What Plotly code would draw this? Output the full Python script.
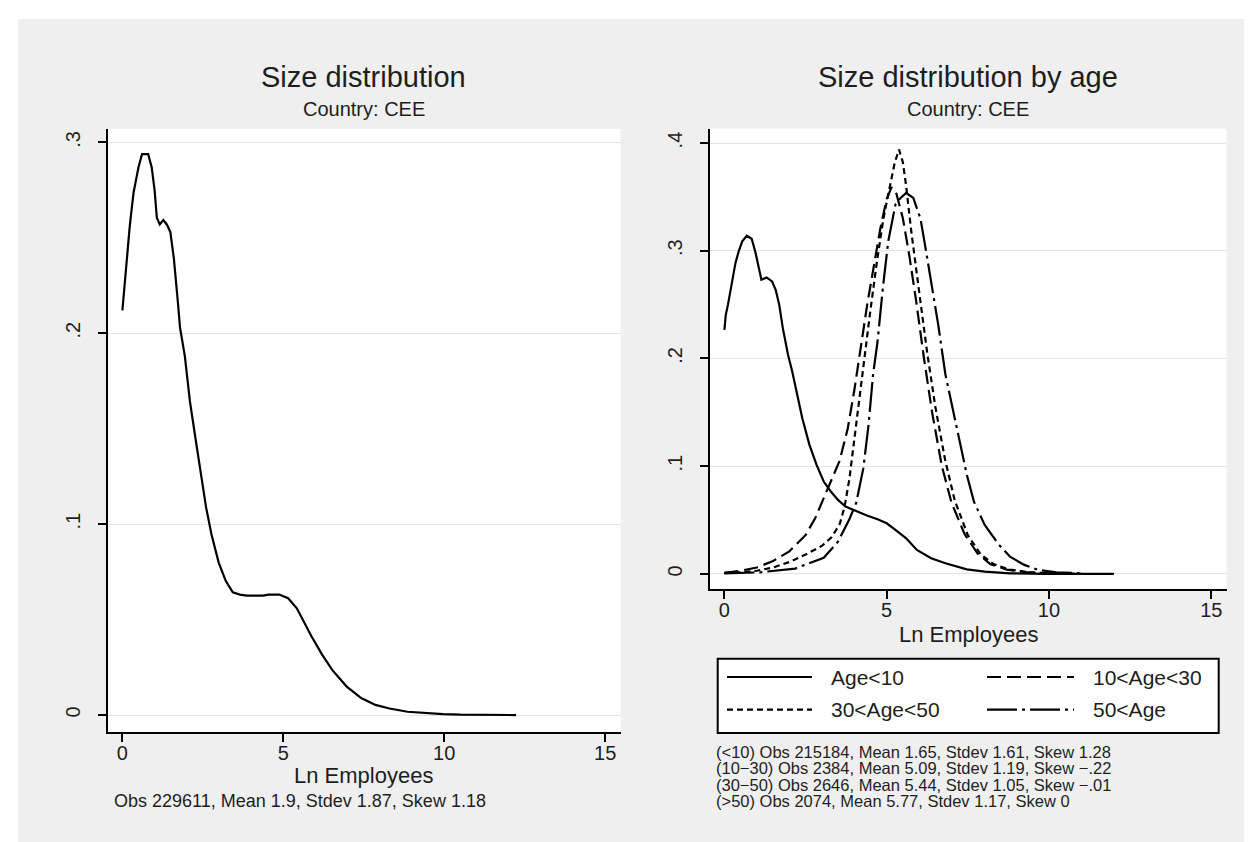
import plotly.graph_objects as go

W, H = 1252, 842

# ---------------- data ----------------
all_x = [0, 0.05, 0.11, 0.17, 0.22, 0.28, 0.35, 0.42, 0.5, 0.61, 0.8, 0.91, 1.0, 1.07,
         1.16, 1.27, 1.38, 1.49, 1.6, 1.72, 1.79, 1.94, 2.1, 2.27, 2.44, 2.6, 2.77, 2.99,
         3.21, 3.43, 3.65, 3.87, 4.37, 4.54, 4.87, 5.15, 5.42, 5.65, 5.87, 6.2, 6.53,
         6.97, 7.42, 7.86, 8.3, 8.86, 9.41, 9.96, 10.5, 11.3, 12.23]
all_y = [0.212, 0.222, 0.235, 0.246, 0.2545, 0.264, 0.274, 0.28, 0.287, 0.2938, 0.2938,
         0.287, 0.275, 0.2605, 0.257, 0.2593, 0.257, 0.253, 0.239, 0.217, 0.203, 0.188,
         0.164, 0.145, 0.1257, 0.1088, 0.0944, 0.08, 0.0703, 0.0643, 0.0631, 0.0626,
         0.0626, 0.0631, 0.0631, 0.0612, 0.0559, 0.0486, 0.0414, 0.0318, 0.0234, 0.0149,
         0.0089, 0.0053, 0.0034, 0.0017, 0.001, 0.0005, 0.0002, 0.0001, 0.0]

age10_x = [0, 0.044, 0.11, 0.176, 0.25, 0.34, 0.44, 0.55, 0.69, 0.84, 0.95, 1.06, 1.14,
           1.3, 1.47, 1.58, 1.69, 1.8, 1.96, 2.09, 2.24, 2.4, 2.62, 2.84, 3.06, 3.28, 3.5,
           3.73, 4.06, 4.39, 4.72, 5.0, 5.27, 5.6, 5.93, 6.37, 6.81, 7.47, 8.02, 8.8, 9.9, 12.0]
age10_y = [0.2266, 0.2406, 0.25, 0.2607, 0.2746, 0.2885, 0.2994, 0.3087, 0.3139, 0.3111,
           0.2994, 0.2839, 0.2731, 0.2752, 0.2715, 0.2638, 0.2498, 0.2282, 0.2034, 0.1879,
           0.1663, 0.1446, 0.1198, 0.1012, 0.0858, 0.0765, 0.0687, 0.0625, 0.0585, 0.0542,
           0.0508, 0.047, 0.0409, 0.0331, 0.0223, 0.0146, 0.0099, 0.0043, 0.0022, 0.0006,
           0.0, 0.0]

age10_30_x = [0, 0.5, 1.0, 1.5, 2.0, 2.5, 2.8, 3.2, 3.55, 3.8, 4.0, 4.2, 4.4, 4.6, 4.8,
              5.0, 5.15, 5.3, 5.5, 5.7, 5.9, 6.15, 6.4, 6.7, 7.0, 7.4, 7.8, 8.2, 8.7, 9.3,
              10.0, 11.0]
age10_30_y = [0.001, 0.003, 0.006, 0.012, 0.021, 0.036, 0.052, 0.081, 0.105, 0.135, 0.17,
              0.21, 0.25, 0.285, 0.32, 0.348, 0.359, 0.353, 0.33, 0.295, 0.255, 0.2, 0.15,
              0.1, 0.066, 0.037, 0.019, 0.009, 0.004, 0.0017, 0.0006, 0.0]

age30_50_x = [0, 0.5, 1.0, 1.5, 2.0, 2.5, 3.0, 3.3, 3.55, 3.7, 3.85, 4.0, 4.15, 4.3, 4.5,
              4.7, 4.9, 5.1, 5.25, 5.38, 5.5, 5.6, 5.75, 6.0, 6.25, 6.5, 6.8, 7.1, 7.5, 7.9,
              8.3, 8.8, 9.4, 10.0, 10.8]
age30_50_y = [0.001, 0.0015, 0.003, 0.006, 0.011, 0.018, 0.026, 0.034, 0.046, 0.062, 0.088,
              0.124, 0.165, 0.2, 0.245, 0.29, 0.33, 0.36, 0.382, 0.394, 0.382, 0.36, 0.32,
              0.262, 0.205, 0.155, 0.106, 0.068, 0.036, 0.018, 0.009, 0.004, 0.0015, 0.0006,
              0.0]

age50_x = [0, 1.08, 2.18, 3.06, 3.5, 3.84, 4.06, 4.28, 4.44, 4.58, 4.72, 4.88, 5.05, 5.27,
           5.43, 5.6, 5.82, 6.04, 6.2, 6.37, 6.59, 6.81, 7.03, 7.25, 7.47, 7.69, 8.02, 8.46,
           8.8, 9.24, 9.68, 10.23, 11.0]
age50_y = [0.0005, 0.0015, 0.005, 0.015, 0.03, 0.05, 0.066, 0.098, 0.138, 0.185, 0.216,
           0.265, 0.309, 0.343, 0.349, 0.3536, 0.349, 0.33, 0.302, 0.27, 0.231, 0.185,
           0.154, 0.123, 0.092, 0.067, 0.0455, 0.027, 0.016, 0.0084, 0.0037, 0.0015, 0.0006]

age_labels = ["Age&lt;10", "10&lt;Age&lt;30", "30&lt;Age&lt;50", "50&lt;Age"]
age_dashes = ["solid", "14px,6px", "6px,4px", "30px,5px,3px,5px"]
age_series = [(age10_x, age10_y), (age10_30_x, age10_30_y),
              (age30_50_x, age30_50_y), (age50_x, age50_y)]

x_ticks = [0, 5, 10, 15]
y1_ticks = [0, 0.1, 0.2, 0.3]
y1_ticktext = ["0", ".1", ".2", ".3"]
y2_ticks = [0, 0.1, 0.2, 0.3, 0.4]
y2_ticktext = ["0", ".1", ".2", ".3", ".4"]

title_left = "Size distribution"
title_right = "Size distribution by age"
subtitle = "Country: CEE"
xtitle = "Ln Employees"
note_left = "Obs 229611, Mean 1.9, Stdev 1.87, Skew 1.18"
notes_right = [
    "(&lt;10) Obs 215184, Mean 1.65, Stdev 1.61, Skew 1.28",
    "(10\u221230) Obs 2384, Mean 5.09, Stdev 1.19, Skew \u2212.22",
    "(30\u221250) Obs 2646, Mean 5.44, Stdev 1.05, Skew \u2212.01",
    "(&gt;50) Obs 2074, Mean 5.77, Stdev 1.17, Skew 0",
]

# ---------------- figure ----------------
FONT = "Liberation Sans, Arial, sans-serif"
TXT = "#1e1e1e"
LW = 2.2

def px(xp):
    return xp / W

def py(yp):
    return 1 - yp / H

fig = go.Figure()
fig.add_trace(go.Scatter(x=all_x, y=all_y, mode="lines", xaxis="x", yaxis="y",
                         line=dict(color="black", width=LW), showlegend=False))
for (sx, sy), dash in zip(age_series, age_dashes):
    fig.add_trace(go.Scatter(x=sx, y=sy, mode="lines", xaxis="x2", yaxis="y2",
                             line=dict(color="black", width=LW, dash=dash),
                             showlegend=False))

axis_common = dict(showline=True, linecolor="black", linewidth=2, ticks="outside",
                   ticklen=8, tickwidth=1.5, tickcolor="black", zeroline=False,
                   tickfont=dict(family=FONT, size=20, color=TXT))

fig.update_layout(
    width=W, height=H,
    margin=dict(l=0, r=0, t=0, b=0),
    paper_bgcolor="#efefef",
    plot_bgcolor="white",
    showlegend=False,
    xaxis=dict(domain=[px(99.6), px(612.6)], range=[-0.46, 15.48], tickvals=x_ticks,
               showgrid=False, anchor="y", ticklabelstandoff=-6, **axis_common),
    yaxis=dict(domain=[py(724.4), py(121)], range=[-0.0091, 0.307], tickvals=y1_ticks,
               ticktext=y1_ticktext, tickangle=-90, showgrid=True, gridcolor="#e3e3e3",
               gridwidth=1, anchor="x", ticklabelstandoff=10, **axis_common),
    xaxis2=dict(domain=[px(701.6), px(1218.5)], range=[-0.456, 15.47], tickvals=x_ticks,
                showgrid=False, anchor="y2", ticklabelstandoff=-6, **axis_common),
    yaxis2=dict(domain=[py(580.5), py(120.7)], range=[-0.0135, 0.4133], tickvals=y2_ticks,
                ticktext=y2_ticktext, tickangle=-90, showgrid=True, gridcolor="#e3e3e3",
                gridwidth=1, anchor="x2", ticklabelstandoff=10, **axis_common),
)

shapes = [
    # white outer margin (top and left)
    dict(type="rect", xref="paper", yref="paper", x0=0, x1=1, y0=py(11), y1=1,
         fillcolor="white", line=dict(width=0), layer="below"),
    dict(type="rect", xref="paper", yref="paper", x0=0, x1=px(10), y0=0, y1=1,
         fillcolor="white", line=dict(width=0), layer="below"),
    # legend box
    dict(type="rect", xref="paper", yref="paper", x0=px(709.7), x1=px(1210.7),
         y0=py(725), y1=py(650.7), fillcolor="white", line=dict(color="black", width=2)),
]

annotations = []

def ann(text, x, y, size, xanchor="center"):
    annotations.append(dict(text=text, x=x, y=y, xref="paper", yref="paper",
                            xanchor=xanchor, yanchor="middle", showarrow=False,
                            font=dict(family=FONT, size=size, color=TXT)))

ann(title_left, px(356), py(69), 29)
ann(subtitle, px(356), py(101), 20)
ann(title_right, px(960), py(69), 29)
ann(subtitle, px(960), py(101), 20)
ann(xtitle, px(356), py(767), 22)
ann(xtitle, px(960), py(626), 22)
ann(note_left, px(104), py(793), 18, xanchor="left")
for i, t in enumerate(notes_right):
    ann(t, px(706), py(743.5 + i * 16.5), 16.5, xanchor="left")

# legend entries (2 x 2)
key_pos = [(719, 804, 821, 669), (979, 1066, 1083, 669),
           (719, 804, 821, 701.7), (979, 1066, 1083, 701.7)]
for (k0, k1, tx, ty), lab, dash in zip(key_pos, age_labels, age_dashes):
    shapes.append(dict(type="line", xref="paper", yref="paper", x0=px(k0), x1=px(k1),
                       y0=py(ty), y1=py(ty), line=dict(color="black", width=LW, dash=dash)))
    ann(lab, px(tx), py(ty), 21, xanchor="left")

fig.update_layout(shapes=shapes, annotations=annotations)

fig.write_html("out.html")
